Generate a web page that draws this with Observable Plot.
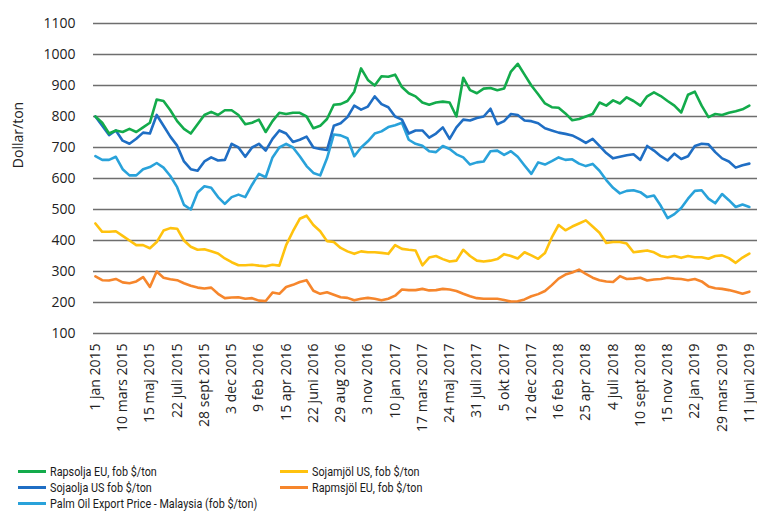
<!DOCTYPE html>
<html>
<head>
<meta charset="utf-8">
<script src="https://cdn.jsdelivr.net/npm/d3@7"></script>
<script src="https://cdn.jsdelivr.net/npm/@observablehq/plot@0.6"></script>
<style>
  body { margin: 0; background: #fff; }
  #wrap { position: relative; width: 757px; height: 511px; font-family: "Open Sans", sans-serif; overflow: hidden; }
  #ylab { position: absolute; left: 17px; top: 135px; transform: translate(-50%, -50%) rotate(-90deg); font-size: 14px; color: #222; white-space: nowrap; }
  #legend { position: relative; height: 59px; font-family: Roboto, sans-serif; font-size: 13.5px; color: #1a1a1a; }
  .item { position: absolute; display: flex; align-items: center; height: 16px; line-height: 15px; white-space: nowrap; }
  .sw { width: 28px; height: 3px; margin-right: 4px; flex: none; }
  .tx { display: inline-block; transform: scaleX(0.8); transform-origin: left center; }
</style>
</head>
<body>
<div id="wrap">
  <div id="chart"></div>
  <div id="ylab">Dollar/ton</div>
  <div id="legend"></div>
</div>
<script>
const tickLabels = ["1 jan 2015","10 mars 2015","15 maj 2015","22 juli 2015","28 sept 2015","3 dec 2015","9 feb 2016","15 apr 2016","22 juni 2016","29 aug 2016","3 nov 2016","10 jan 2017","17 mars 2017","24 maj 2017","31 juli 2017","5 okt 2017","12 dec 2017","16 feb 2018","25 apr 2018","4 juli 2018","10 sept 2018","15 nov 2018","22 jan 2019","29 mars 2019","11 juni 2019"];
const yTicks = [100,200,300,400,500,600,700,800,900,1000,1100];
const pointsPerTick = 4;

const rapsolja = [800,780,745,755, 750,760,750,765, 780,855,850,820, 785,760,745,775, 805,815,805,820, 820,805,775,780,
  790,750,785,812, 808,812,812,800, 762,770,792,838, 840,850,880,955, 918,900,930,928, 935,895,875,865,
  845,838,845,848, 845,800,925,885, 875,890,892,885, 890,945,970,935, 900,872,842,830, 828,810,788,792,
  800,808,845,835, 852,842,862,850, 835,865,878,866, 850,835,813,870, 880,835,798,808, 805,812,817,823,
  835];
const sojaolja = [800,770,740,755, 722,712,728,748, 745,805,770,735, 706,655,630,625, 655,668,658,660, 712,700,670,700,
  712,690,728,755, 745,718,725,735, 700,695,692,770, 778,798,835,822, 832,865,840,830, 800,790,745,755,
  755,732,745,765, 728,765,790,787, 795,800,825,775, 785,808,805,787, 785,778,762,755, 748,744,739,728,
  715,728,705,682, 665,670,675,678, 660,705,690,672, 658,680,663,672, 705,712,710,685, 665,655,635,643,
  648];
const palmolja = [672,660,660,670, 630,610,610,630, 637,650,635,608, 572,515,500,555, 575,570,540,518, 540,548,540,580,
  615,604,668,700, 712,700,672,640, 618,610,665,742, 739,730,672,700, 720,745,752,766, 772,780,725,712,
  706,688,685,705, 695,678,668,645, 652,655,688,690, 676,688,670,642, 615,652,645,656, 668,660,662,648,
  640,647,625,595, 570,552,560,562, 556,540,545,512, 472,485,505,535, 560,562,535,520, 550,530,508,516,
  508];
const sojamjol = [455,428,428,430, 415,400,385,385, 375,395,432,440, 438,400,380,370, 372,365,358,342, 330,320,320,322,
  319,317,322,319, 385,430,470,480, 450,430,398,395, 376,365,357,365, 362,362,360,357, 385,373,370,368,
  320,345,350,340, 332,335,370,350, 335,332,335,340, 356,350,342,362, 352,341,360,410, 450,433,445,455,
  465,445,425,392, 395,395,390,362, 365,368,362,350, 346,350,344,350, 346,346,341,350, 352,343,328,345,
  358];
const rapsmjol = [284,272,271,276, 265,262,268,282, 250,300,280,275, 272,262,254,248, 245,248,228,214, 216,217,212,214,
  206,205,232,228, 250,257,266,272, 238,228,233,225, 217,215,207,212, 215,212,207,212, 222,242,240,240,
  244,239,240,244, 242,237,228,220, 214,212,212,212, 208,203,204,210, 220,227,237,256, 277,290,297,306,
  292,280,272,268, 266,285,276,277, 280,271,274,276, 280,277,276,272, 276,268,252,246, 244,240,235,228,
  235];

const seriesNames = ["Rapsolja EU, fob $/ton","Sojaolja US fob $/ton","Palm Oil Export Price - Malaysia (fob $/ton)","Sojamjöl US, fob $/ton","Rapmsjöl EU, fob $/ton"];
const seriesColors = ["#13ab4b","#1f6ec4","#29a2da","#ffc20e","#f6862c"];
const seriesValues = [rapsolja, sojaolja, palmolja, sojamjol, rapsmjol];

const toRows = vals => vals.map((v, i) => ({t: i / pointsPerTick, v}));
const drawOrder = [4, 3, 2, 1, 0];

const chart = Plot.plot({
  width: 757,
  height: 452,
  marginTop: 23,
  marginBottom: 119,
  marginLeft: 93,
  marginRight: 0,
  style: {fontFamily: "Open Sans, sans-serif", fontSize: "14px", color: "#222", background: "#fff"},
  x: {
    domain: [-0.07, 24.3],
    ticks: d3.range(tickLabels.length),
    tickFormat: i => tickLabels[i],
    tickRotate: -90,
    tickSize: 0,
    tickPadding: 10,
    label: null
  },
  y: {
    domain: [100, 1100],
    ticks: yTicks,
    tickFormat: d => String(d),
    tickSize: 0,
    tickPadding: 18,
    label: null
  },
  marks: [
    Plot.ruleY(yTicks, {stroke: "#6e6e6e", strokeWidth: 1.6}),
    ...drawOrder.map(k => Plot.line(toRows(seriesValues[k]), {x: "t", y: "v", stroke: seriesColors[k], strokeWidth: 2.6, strokeLinejoin: "round"}))
  ]
});
document.getElementById("chart").appendChild(chart);

const legend = document.getElementById("legend");
const legendPos = [[18, 11], [18, 27], [18, 43], [280, 11], [280, 27]];
seriesNames.forEach((name, k) => {
  const item = document.createElement("div");
  item.className = "item";
  item.style.left = legendPos[k][0] + "px";
  item.style.top = legendPos[k][1] + "px";
  const sw = document.createElement("span");
  sw.className = "sw";
  sw.style.background = seriesColors[k];
  const tx = document.createElement("span");
  tx.className = "tx";
  tx.textContent = name;
  item.appendChild(sw);
  item.appendChild(tx);
  legend.appendChild(item);
});
</script>
</body>
</html>
